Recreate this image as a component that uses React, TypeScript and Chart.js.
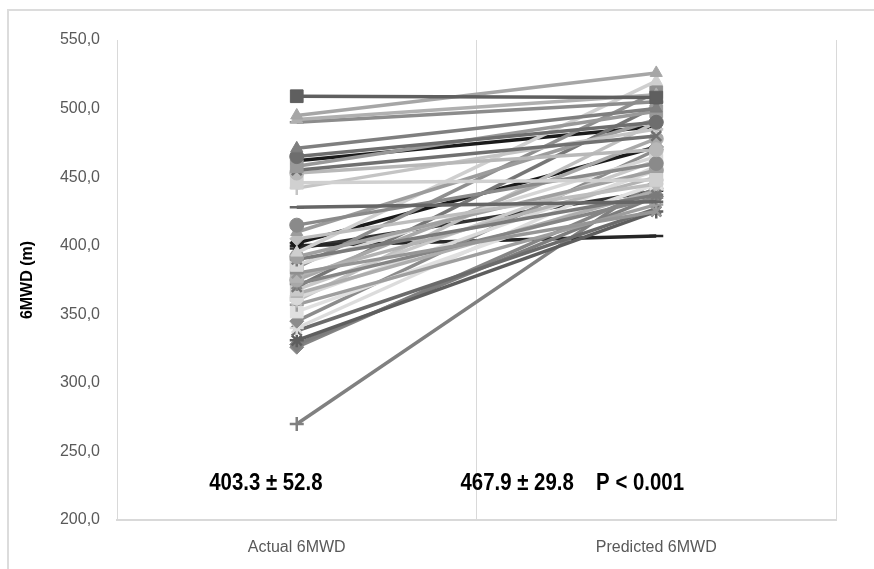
import React, { useEffect, useRef } from "react";
import { Chart, registerables } from "chart.js";

Chart.register(...registerables);

const categories = ["Actual 6MWD", "Predicted 6MWD"];
const yTicks = [200, 250, 300, 350, 400, 450, 500, 550];

const actualValues = [
  509, 495, 492, 490, 471, 465, 458, 455, 453, 446, 442, 428, 415, 410, 405,
  395, 392, 390, 386, 384, 380, 378, 375, 372, 370, 368, 365, 362, 360, 357,
  352, 345, 340, 338, 331, 328, 326, 270, 462, 402, 400, 398,
];
const predictedValues = [
  508, 526, 510, 505, 500, 490, 498, 480, 470, 448, 485, 432, 460, 492, 445,
  520, 455, 437, 465, 512, 425, 450, 478, 435, 502, 462, 440, 455, 490, 430,
  445, 470, 458, 427, 425, 436, 442, 448, 487, 472, 407, 440,
];

const seriesColors = [
  "#5f5f5f", "#a6a6a6", "#b0b0b0", "#8c8c8c", "#7f7f7f", "#6e6e6e", "#999999",
  "#707070", "#b8b8b8", "#d0d0d0", "#c4c4c4", "#666666", "#8a8a8a", "#9c9c9c",
  "#bdbdbd", "#cfcfcf", "#a0a0a0", "#7a7a7a", "#d6d6d6", "#8f8f8f", "#969696",
  "#b3b3b3", "#a8a8a8", "#858585", "#777777", "#c9c9c9", "#adadad", "#d9d9d9",
  "#bfbfbf", "#9e9e9e", "#e0e0e0", "#8c8c8c", "#dcdcdc", "#6b6b6b", "#5e5e5e",
  "#7d7d7d", "#858585", "#808080", "#1a1a1a", "#1a1a1a", "#262626", "#333333",
];
const seriesMarkers = [
  "rect", "triangle", "triangle", "line", "triangle", "circle", "rect",
  "crossRot", "circle", "rect", "cross", "line", "circle", "triangle",
  "rectRot", "triangle", "circle", "star", "rect", "rect", "crossRot",
  "rect", "circle", "star", "crossRot", "rect", "triangle", "circle",
  "star", "cross", "rect", "rectRot", "star", "crossRot", "star",
  "rectRot", "rectRot", "cross", "triangle", "rectRot", "line", "star",
];

const annotationTexts = ["403.3 \u00b1 52.8", "467.9 \u00b1 29.8", "P < 0.001"];
const annotationX = [-0.086, 0.613, 0.955];
const annotationY = 227;

const fmt = (v: number) => v.toFixed(1).replace(".", ",");

const annotationPlugin = {
  id: "annot",
  afterDraw(chart: any) {
    const { ctx, scales } = chart;
    annotationTexts.forEach((t, i) => {
      ctx.save();
      ctx.font = "bold 24px 'Liberation Sans', Arial, sans-serif";
      ctx.fillStyle = "#000";
      ctx.textAlign = "center";
      ctx.textBaseline = "middle";
      ctx.translate(scales.x.getPixelForValue(annotationX[i]), scales.y.getPixelForValue(annotationY));
      ctx.scale(0.85, 1);
      ctx.fillText(t, 0, 0);
      ctx.restore();
    });
  },
};

export default function App() {
  const ref = useRef<HTMLCanvasElement>(null);
  useEffect(() => {
    if (!ref.current) return;
    const datasets = actualValues.map((a, i) => {
      const m = seriesMarkers[i];
      return {
        label: "P" + (i + 1),
        data: [a, predictedValues[i]],
        borderColor: seriesColors[i],
        backgroundColor: seriesColors[i],
        pointBorderColor: seriesColors[i],
        pointBackgroundColor: seriesColors[i],
        borderWidth: 3.5,
        pointStyle: m,
        pointRadius: m === "rect" ? 9 : 7,
        pointBorderWidth: m === "cross" || m === "crossRot" || m === "star" || m === "line" ? 2.5 : 1,
        tension: 0,
      };
    });
    const chart = new Chart(ref.current, {
      type: "line",
      data: { labels: categories, datasets },
      options: {
        responsive: false,
        animation: false,
        layout: { padding: { left: 0, right: 38, top: 40, bottom: 0 } },
        plugins: { legend: { display: false }, tooltip: { enabled: false } },
        scales: {
          x: {
            type: "category",
            offset: true,
            grid: { offset: true, color: "#d9d9d9", lineWidth: 1, drawTicks: false },
            border: { display: true, color: "#d9d9d9", width: 2 },
            ticks: {
              padding: 18,
              color: "#595959",
              font: { family: "'Liberation Sans', Arial, sans-serif", size: 16 },
            },
            afterFit: (s: any) => { s.height = 49; },
          },
          y: {
            min: 200,
            max: 550,
            afterBuildTicks: (s: any) => { s.ticks = yTicks.map((v) => ({ value: v })); },
            grid: { display: false, drawTicks: false },
            border: { display: false },
            ticks: {
              padding: 17,
              color: "#595959",
              font: { family: "'Liberation Sans', Arial, sans-serif", size: 16 },
              callback: (v: any) => fmt(Number(v)),
            },
            title: {
              display: true,
              text: "6MWD (m)",
              color: "#000",
              padding: { top: 18, bottom: 0 },
              font: { family: "'Liberation Sans', Arial, sans-serif", size: 16, weight: "bold" },
            },
            afterFit: (s: any) => { s.width = 117; },
          },
        },
      },
      plugins: [annotationPlugin],
    } as any);
    return () => chart.destroy();
  }, []);
  return (
    <div style={{ position: "fixed", left: 0, top: 0, width: 874, height: 569, overflow: "hidden", background: "#fff" }}>
      <div
        style={{
          position: "absolute",
          left: 7,
          top: 9,
          width: 900,
          height: 600,
          borderTop: "2px solid #dcdcdc",
          borderLeft: "2px solid #dcdcdc",
        }}
      />
      <canvas ref={ref} width={874} height={569} style={{ position: "absolute", left: 0, top: 0, width: 874, height: 569 }} />
    </div>
  );
}
